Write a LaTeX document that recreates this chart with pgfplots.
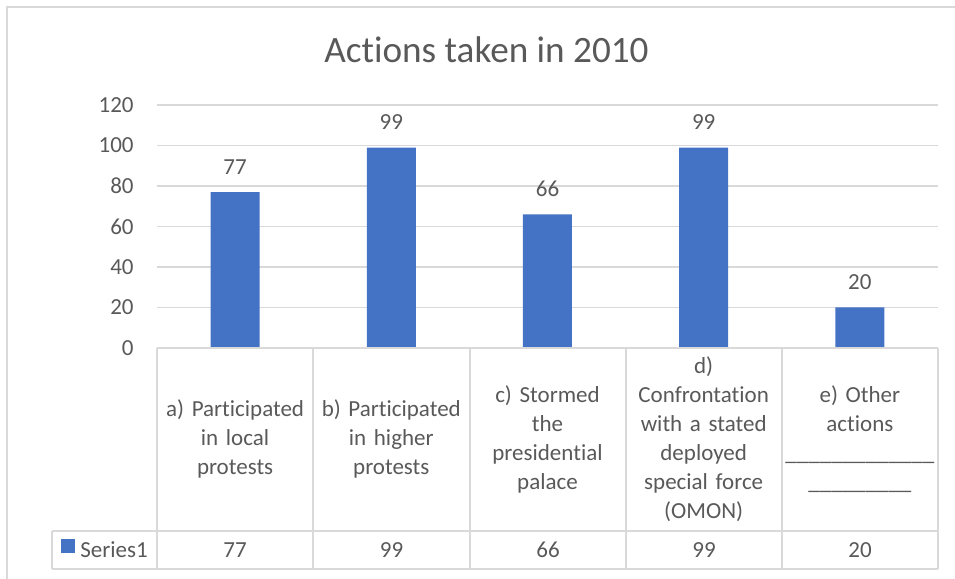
\documentclass[border=0pt]{standalone}
\usepackage{fontspec}
\setmainfont{Carlito}[Ligatures={NoCommon}]
\usepackage{pgfplots}
\pgfplotsset{compat=1.18}
\definecolor{barblue}{HTML}{4472C4}
\definecolor{txt}{HTML}{595959}
\definecolor{gridc}{HTML}{D9D9D9}
\begin{document}
\begin{tikzpicture}
\begin{scope}[x=0.5pt,y=0.5pt]
\useasboundingbox (0,0) rectangle (955,579);
\draw[gridc, line width=0.9pt] (7,0) -- (7,572) -- (955,572);
\node[txt, anchor=base, inner sep=0pt, font=\fontsize{18.6}{22}\selectfont] at (486.5,516) {Actions taken in 2010};
\end{scope}
\begin{axis}[
  at={(78.5pt,115.5pt)}, anchor=south west,
  scale only axis, width=390.5pt, height=121.5pt,
  xmin=-0.5, xmax=4.5, ymin=0, ymax=120,
  ytick={0,20,...,120},
  xtick={0,...,4},
  xticklabels={{a) Participated\\in local\\protests},
               {b) Participated\\in higher\\protests},
               {c) Stormed\\the\\presidential\\palace},
               {d)\\Confrontation\\with a stated\\deployed\\special force\\(OMON)},
               {e) Other\\actions\\\_\_\_\_\_\_\_\_\_\_\_\_\_\\\_\_\_\_\_\_\_\_\_}},
  axis line style={draw=none},
  major tick length=0pt,
  ymajorgrids, grid style={gridc, line width=0.75pt},
  tick label style={txt, font=\fontsize{11.5}{14.5}\selectfont},
  yticklabel style={anchor=east, inner sep=0pt, xshift=-11.5pt},
  xticklabel style={text width=76pt, align=center, anchor=center, inner sep=0pt, yshift=-45.5pt},
  /pgf/number format/assume math mode=true,
  clip=false,
  ybar, bar width=24.5pt,
  nodes near coords,
  every node near coord/.append style={txt, font=\fontsize{11.5}{14.5}\selectfont, anchor=base, yshift=9pt, inner sep=0pt},
]
\addplot[fill=barblue, draw=none] coordinates {(0,77) (1,99) (2,66) (3,99) (4,20)};
\end{axis}
\begin{scope}[x=0.5pt,y=0.5pt]
\begin{scope}[gridc, line width=0.75pt]
\draw (157,231) -- (938,231);
\foreach \x in {157,313,470,626,782,938} \draw (\x,231) -- (\x,10);
\draw (52,48) -- (938,48);
\draw (52,10) -- (938,10);
\draw (52,48) -- (52,10);
\end{scope}
\fill[barblue] (61,40) rectangle (75,26);
\begin{scope}[txt, font=\fontsize{11.5}{14.5}\selectfont, inner sep=0pt]
\node[anchor=west] at (80,29) {Series1};
\node at (235,29) {77};
\node at (391.5,29) {99};
\node at (548,29) {66};
\node at (704,29) {99};
\node at (860,29) {20};
\end{scope}
\end{scope}
\end{tikzpicture}
\end{document}
